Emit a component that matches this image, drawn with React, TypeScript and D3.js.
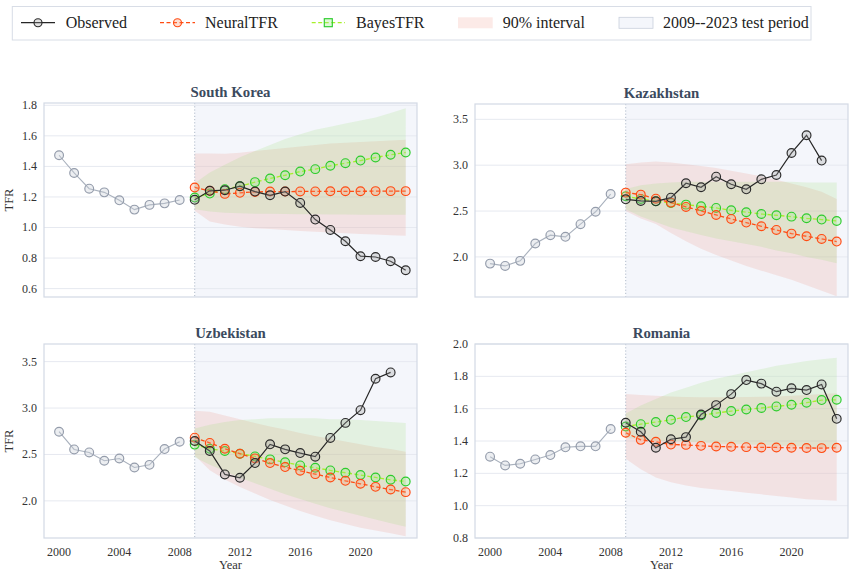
import React from "react";
import * as d3 from "d3";

// years on the x axis
const histYears = [2000, 2001, 2002, 2003, 2004, 2005, 2006, 2007, 2008];
const testYears = [2009, 2010, 2011, 2012, 2013, 2014, 2015, 2016, 2017, 2018, 2019, 2020, 2021, 2022, 2023];
const xTicks = [2000, 2004, 2008, 2012, 2016, 2020];

// South Korea
const koreaHist = [1.473, 1.357, 1.254, 1.23, 1.178, 1.117, 1.148, 1.158, 1.18];
const koreaTest = [1.181, 1.24, 1.244, 1.27, 1.235, 1.211, 1.235, 1.161, 1.052, 0.984, 0.91, 0.812, 0.807, 0.779, 0.72];
const koreaNeural = [1.262, 1.24, 1.22, 1.227, 1.233, 1.235, 1.235, 1.236, 1.236, 1.237, 1.237, 1.237, 1.238, 1.238, 1.238];
const koreaNeuralLo = [1.11, 1.04, 1.02, 1.005, 0.995, 0.99, 0.983, 0.977, 0.972, 0.967, 0.962, 0.958, 0.954, 0.95, 0.946];
const koreaNeuralHi = [1.484, 1.484, 1.483, 1.49, 1.5, 1.51, 1.52, 1.53, 1.54, 1.55, 1.555, 1.56, 1.565, 1.57, 1.575];
const koreaBayes = [1.196, 1.222, 1.251, 1.27, 1.297, 1.321, 1.342, 1.366, 1.382, 1.404, 1.421, 1.438, 1.458, 1.476, 1.491];
const koreaBayesLo = [1.12, 1.105, 1.097, 1.093, 1.09, 1.09, 1.088, 1.087, 1.086, 1.085, 1.085, 1.084, 1.084, 1.084, 1.084];
const koreaBayesHi = [1.29, 1.36, 1.41, 1.46, 1.5, 1.54, 1.58, 1.61, 1.64, 1.66, 1.68, 1.7, 1.72, 1.75, 1.78];

// Kazakhstan
const kazHist = [1.927, 1.902, 1.957, 2.146, 2.237, 2.219, 2.357, 2.492, 2.685];
const kazTest = [2.628, 2.61, 2.606, 2.646, 2.803, 2.759, 2.875, 2.792, 2.737, 2.846, 2.893, 3.133, 3.326, 3.05];
const kazNeural = [2.701, 2.679, 2.635, 2.592, 2.545, 2.501, 2.457, 2.414, 2.374, 2.334, 2.294, 2.254, 2.225, 2.196, 2.167];
const kazNeuralLo = [2.5, 2.42, 2.36, 2.26, 2.17, 2.09, 2.02, 1.96, 1.9, 1.85, 1.8, 1.75, 1.69, 1.63, 1.57];
const kazNeuralHi = [3.01, 3.03, 3.04, 3.03, 3.01, 2.99, 2.97, 2.94, 2.91, 2.88, 2.84, 2.8, 2.76, 2.71, 2.63];
const kazBayes = [2.661, 2.632, 2.606, 2.588, 2.57, 2.552, 2.534, 2.508, 2.487, 2.468, 2.454, 2.439, 2.421, 2.407, 2.392];
const kazBayesLo = [2.52, 2.44, 2.38, 2.32, 2.28, 2.24, 2.2, 2.17, 2.14, 2.11, 2.07, 2.04, 2.0, 1.97, 1.93];
const kazBayesHi = [2.74, 2.78, 2.8, 2.81, 2.82, 2.82, 2.82, 2.82, 2.82, 2.82, 2.82, 2.82, 2.81, 2.81, 2.81];

// Uzbekistan
const uzbHist = [2.745, 2.554, 2.522, 2.432, 2.457, 2.36, 2.388, 2.558, 2.637];
const uzbTest = [2.645, 2.537, 2.285, 2.249, 2.407, 2.609, 2.555, 2.515, 2.476, 2.678, 2.84, 2.977, 3.316, 3.384];
const uzbNeural = [2.681, 2.624, 2.562, 2.508, 2.458, 2.407, 2.364, 2.324, 2.288, 2.252, 2.216, 2.184, 2.151, 2.122, 2.094];
const uzbNeuralLo = [2.49, 2.33, 2.23, 2.15, 2.08, 2.01, 1.95, 1.89, 1.84, 1.79, 1.75, 1.71, 1.68, 1.65, 1.62];
const uzbNeuralHi = [2.97, 2.96, 2.92, 2.88, 2.84, 2.8, 2.77, 2.73, 2.7, 2.67, 2.64, 2.61, 2.58, 2.56, 2.53];
const uzbBayes = [2.606, 2.562, 2.537, 2.508, 2.479, 2.447, 2.415, 2.382, 2.357, 2.328, 2.303, 2.278, 2.252, 2.227, 2.209];
const uzbBayesLo = [2.47, 2.39, 2.32, 2.25, 2.19, 2.13, 2.07, 2.02, 1.97, 1.92, 1.88, 1.84, 1.8, 1.76, 1.72];
const uzbBayesHi = [2.78, 2.82, 2.85, 2.87, 2.88, 2.89, 2.89, 2.89, 2.89, 2.88, 2.88, 2.87, 2.86, 2.85, 2.84];

// Romania
const romHist = [1.303, 1.249, 1.259, 1.286, 1.313, 1.361, 1.367, 1.367, 1.474];
const romTest = [1.513, 1.457, 1.358, 1.411, 1.424, 1.564, 1.622, 1.69, 1.777, 1.755, 1.705, 1.726, 1.715, 1.75, 1.537];
const romNeural = [1.451, 1.407, 1.395, 1.378, 1.376, 1.37, 1.366, 1.364, 1.362, 1.36, 1.36, 1.358, 1.357, 1.356, 1.358];
const romNeuralLo = [1.29, 1.225, 1.175, 1.145, 1.125, 1.11, 1.1, 1.09, 1.08, 1.07, 1.06, 1.05, 1.04, 1.035, 1.03];
const romNeuralHi = [1.69, 1.685, 1.68, 1.675, 1.672, 1.67, 1.67, 1.67, 1.672, 1.674, 1.676, 1.68, 1.685, 1.69, 1.695];
const romBayes = [1.49, 1.504, 1.517, 1.531, 1.548, 1.558, 1.573, 1.585, 1.595, 1.604, 1.614, 1.624, 1.637, 1.653, 1.655];
const romBayesLo = [1.42, 1.41, 1.4, 1.4, 1.395, 1.39, 1.385, 1.38, 1.38, 1.375, 1.37, 1.37, 1.365, 1.36, 1.36];
const romBayesHi = [1.57, 1.62, 1.66, 1.7, 1.73, 1.76, 1.785, 1.805, 1.825, 1.845, 1.865, 1.88, 1.895, 1.905, 1.915];

const FONT = "'Liberation Serif', 'Times New Roman', serif";
const NEURAL = "#ff4b12";
const BAYES_LINE = "#a6f02a";
const BAYES_EDGE = "#2ccc2c";

type Pt = [number, number];
const zip = (xs: number[], ys: number[]): Pt[] => ys.map((v, i) => [xs[i], v]);

function Marker({ cx, cy, stroke, fill }: { cx: number; cy: number; stroke: string; fill: string }) {
  return <circle cx={cx} cy={cy} r={4.4} fill={fill} stroke={stroke} strokeWidth={1.15} />;
}

function Panel(props: any) {
  const { id, title, left, top, width, height, yDomain, yTicks, yFmt, showX, showY, hist, test, neural, nLo, nHi, bayes, bLo, bHi } = props;
  const x = d3.scaleLinear().domain([1999, 2023.75]).range([left, left + width]);
  const y = d3.scaleLinear().domain(yDomain).range([top + height, top]);
  const line = d3.line<Pt>().x((d) => x(d[0])).y((d) => y(d[1]));
  const nBand = d3
    .area<number>()
    .x((_, i) => x(testYears[i]))
    .y0((_, i) => y(nLo[i]))
    .y1((_, i) => y(nHi[i]))(nLo);
  const bBand = d3
    .area<number>()
    .x((_, i) => x(testYears[i]))
    .y0((_, i) => y(bLo[i]))
    .y1((_, i) => y(bHi[i]))(bLo);

  const histPts = zip(histYears, hist);
  const testPts = zip(testYears, test);
  const neuralPts = zip(testYears, neural);
  const bayesPts = zip(testYears, bayes);
  const x09 = x(2009);

  return (
    <g>
      <defs>
        <clipPath id={`clip-${id}`}>
          <rect x={left} y={top} width={width} height={height} />
        </clipPath>
      </defs>
      <rect x={left} y={top} width={width} height={height} fill="#ffffff" />
      <rect x={x09} y={top} width={left + width - x09} height={height} fill="#f4f6fb" />
      {yTicks.map((t: number) => (
        <line key={t} x1={left} x2={left + width} y1={y(t)} y2={y(t)} stroke="#e6e9f0" strokeWidth={1} />
      ))}
      <g clipPath={`url(#clip-${id})`}>
        <path d={nBand!} fill="#e8705e" fillOpacity={0.15} />
        <path d={bBand!} fill="#8fdc62" fillOpacity={0.17} />
      </g>
      <line x1={x09} x2={x09} y1={top} y2={top + height} stroke="#a9b4c6" strokeWidth={0.9} strokeDasharray="1.2,2" />
      <rect x={left} y={top} width={width} height={height} fill="none" stroke="#d3d9e4" strokeWidth={1.2} />

      {/* history */}
      <path d={line(histPts)!} fill="none" stroke="#a9b1bd" strokeWidth={1.1} />
      {histPts.map((d, i) => (
        <Marker key={"h" + i} cx={x(d[0])} cy={y(d[1])} stroke="#949cab" fill="rgba(200,205,214,0.35)" />
      ))}
      {/* BayesTFR */}
      <path d={line(bayesPts)!} fill="none" stroke={BAYES_LINE} strokeWidth={1.3} strokeDasharray="4,2.5" />
      {bayesPts.map((d, i) => (
        <Marker key={"b" + i} cx={x(d[0])} cy={y(d[1])} stroke={BAYES_EDGE} fill="rgba(150,235,130,0.3)" />
      ))}
      {/* NeuralTFR */}
      <path d={line(neuralPts)!} fill="none" stroke={NEURAL} strokeWidth={1.3} strokeDasharray="4,2.5" />
      {neuralPts.map((d, i) => (
        <Marker key={"n" + i} cx={x(d[0])} cy={y(d[1])} stroke={NEURAL} fill="rgba(255,150,110,0.3)" />
      ))}
      {/* observed in the test period */}
      <path d={line(testPts)!} fill="none" stroke="#262626" strokeWidth={1.2} />
      {testPts.map((d, i) => (
        <Marker key={"o" + i} cx={x(d[0])} cy={y(d[1])} stroke="#2a2a2a" fill="rgba(160,160,160,0.3)" />
      ))}

      {yTicks.map((t: number) => (
        <text key={"yt" + t} x={left - 7} y={y(t) + 4} textAnchor="end" fontSize={12} fill="#333" fontFamily={FONT}>
          {yFmt(t)}
        </text>
      ))}
      {showX &&
        xTicks.map((t) => (
          <text key={"xt" + t} x={x(t)} y={top + height + 18} textAnchor="middle" fontSize={12} fill="#333" fontFamily={FONT}>
            {t}
          </text>
        ))}
      {showX && (
        <text x={left + width / 2} y={top + height + 31} textAnchor="middle" fontSize={12.5} fill="#333" fontFamily={FONT}>
          Year
        </text>
      )}
      {showY && (
        <text
          transform={`translate(${left - 31},${top + height / 2}) rotate(-90)`}
          textAnchor="middle"
          fontSize={12.5}
          fill="#333"
          fontFamily={FONT}
        >
          TFR
        </text>
      )}
      <text x={left + width / 2} y={top - 6} textAnchor="middle" fontSize={14.8} fontWeight="bold" fill="#3b4a5e" fontFamily={FONT}>
        {title}
      </text>
    </g>
  );
}

function Legend() {
  const cy = 22.7;
  const ty = cy + 5.5;
  return (
    <g fontFamily={FONT} fontSize={16} fill="#222">
      <rect x={12.3} y={6.5} width={798.7} height={33.5} fill="#ffffff" stroke="#d8dde6" strokeWidth={1} />
      <line x1={21} x2={55} y1={cy} y2={cy} stroke="#262626" strokeWidth={1.2} />
      <circle cx={38} cy={cy} r={4} fill="rgba(160,160,160,0.3)" stroke="#2a2a2a" strokeWidth={1.15} />
      <text x={65.7} y={ty}>Observed</text>
      <line x1={160} x2={195} y1={cy} y2={cy} stroke={NEURAL} strokeWidth={1.3} strokeDasharray="4,2.5" />
      <circle cx={177.5} cy={cy} r={4} fill="rgba(255,150,110,0.3)" stroke={NEURAL} strokeWidth={1.15} />
      <text x={205} y={ty}>NeuralTFR</text>
      <line x1={311.7} x2={345} y1={cy} y2={cy} stroke={BAYES_LINE} strokeWidth={1.3} strokeDasharray="4,2.5" />
      <rect x={324.3} y={cy - 4} width={8} height={8} fill="rgba(150,235,130,0.3)" stroke={BAYES_EDGE} strokeWidth={1.15} />
      <text x={356} y={ty}>BayesTFR</text>
      <rect x={458} y={17.3} width={34.7} height={11} fill="#e8705e" fillOpacity={0.15} />
      <text x={502.7} y={ty}>90% interval</text>
      <rect x={619} y={17.3} width={34} height={11} fill="#f4f6fb" stroke="#c9d0dc" strokeWidth={0.8} />
      <text x={663} y={ty}>2009--2023 test period</text>
    </g>
  );
}

export default function App() {
  const f1 = (v: number) => v.toFixed(1);
  return (
    <svg width={855} height={576} style={{ position: "absolute", left: 0, top: 0, background: "#fff" }}>
      <Legend />
      <Panel
        id="kor" title="South Korea" left={44} top={103} width={373} height={194}
        yDomain={[0.545, 1.815]} yTicks={[0.6, 0.8, 1.0, 1.2, 1.4, 1.6, 1.8]} yFmt={f1} showX={false} showY={true}
        hist={koreaHist} test={koreaTest} neural={koreaNeural} nLo={koreaNeuralLo} nHi={koreaNeuralHi}
        bayes={koreaBayes} bLo={koreaBayesLo} bHi={koreaBayesHi}
      />
      <Panel
        id="kaz" title="Kazakhstan" left={475} top={104} width={373} height={193}
        yDomain={[1.563, 3.667]} yTicks={[2.0, 2.5, 3.0, 3.5]} yFmt={f1} showX={false} showY={false}
        hist={kazHist} test={kazTest} neural={kazNeural} nLo={kazNeuralLo} nHi={kazNeuralHi}
        bayes={kazBayes} bLo={kazBayesLo} bHi={kazBayesHi}
      />
      <Panel
        id="uzb" title="Uzbekistan" left={44} top={344} width={373} height={194}
        yDomain={[1.6, 3.69]} yTicks={[2.0, 2.5, 3.0, 3.5]} yFmt={f1} showX={true} showY={true}
        hist={uzbHist} test={uzbTest} neural={uzbNeural} nLo={uzbNeuralLo} nHi={uzbNeuralHi}
        bayes={uzbBayes} bLo={uzbBayesLo} bHi={uzbBayesHi}
      />
      <Panel
        id="rom" title="Romania" left={475} top={344} width={373} height={194}
        yDomain={[0.8, 2.0]} yTicks={[0.8, 1.0, 1.2, 1.4, 1.6, 1.8, 2.0]} yFmt={f1} showX={true} showY={false}
        hist={romHist} test={romTest} neural={romNeural} nLo={romNeuralLo} nHi={romNeuralHi}
        bayes={romBayes} bLo={romBayesLo} bHi={romBayesHi}
      />
    </svg>
  );
}
